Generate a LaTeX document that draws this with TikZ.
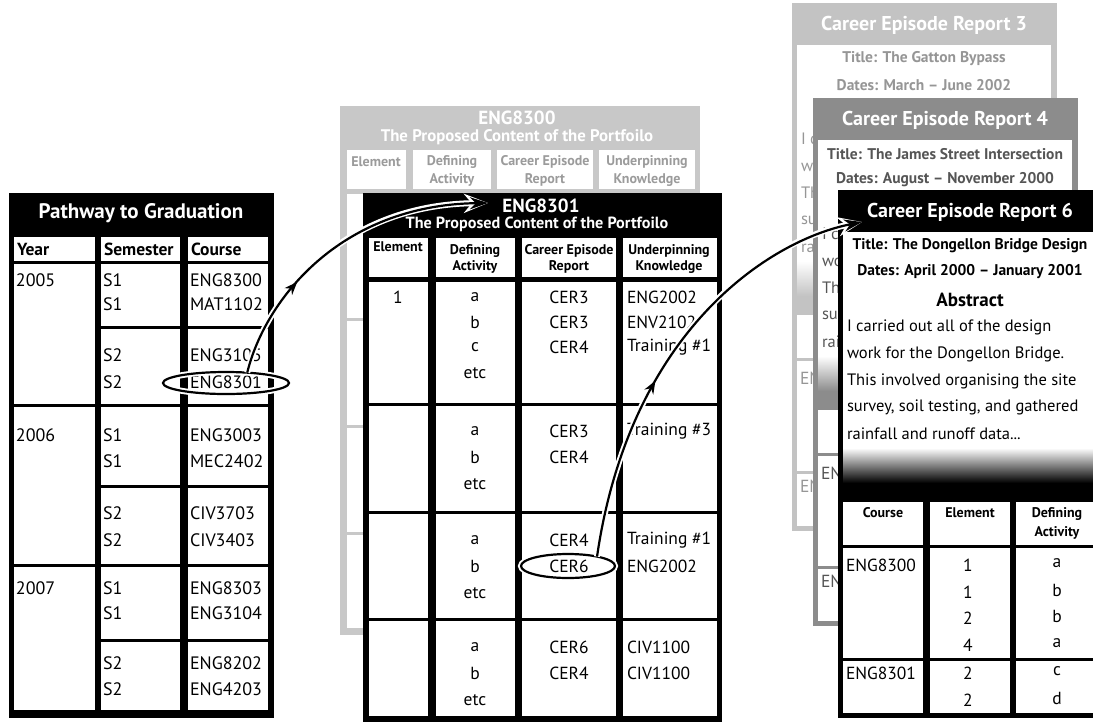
\documentclass[tikz,border=0pt]{standalone}
\usepackage{fontspec}
\setmainfont{PT Sans}
\usetikzlibrary{arrows.meta,shapes.geometric,decorations.markings}
\definecolor{lg}{RGB}{200,200,200}
\definecolor{lgt}{RGB}{155,155,155}
\definecolor{cthree}{RGB}{195,195,195}
\definecolor{cthreet}{RGB}{150,150,150}
\definecolor{cfour}{RGB}{140,140,140}
\definecolor{cfourt}{RGB}{85,85,85}
\newcommand\fsz[2]{\fontsize{#1}{#2}\selectfont}
\newcommand\abstractend{rainfall and runoff data.\kern0pt.\kern0pt.}
% career episode report card: #1 name, #2 x, #3 y, #4 fill, #5 text colour,
% #6 number, #7 title, #8 dates, #9 1 = front card (all parts visible)
\newcommand\cercard[9]{%
\begin{scope}[shift={(#2,#3)}]
\fill[#4] (0,0) rectangle (265,528);
\node[font=\bfseries\fsz{20}{24},white] (#1-h) at (132,22) {Career Episode Report #6};
\fill[white] (5,42) rectangle (259,259);
\shade[top color=white,bottom color=#4] (5,258) rectangle (259,293);
\node[font=\bfseries\fsz{15.5}{18},text=#5] (#1-ti) at (132,56) {#7};
\node[font=\bfseries\fsz{15.5}{18},text=#5] (#1-da) at (132,82) {#8};
\foreach \yy/\abl [count=\i] in {137/I carried out all of the design,164/work for the Dongellon Bridge.,191/This involved organising the site,217/{survey, soil testing, and gathered},244/\abstractend}
  \node[font=\fsz{16.5}{19},text=#5,anchor=west] (#1-l\i) at (9,\yy) {\abl};
\foreach \xa/\xb in {5/85,92/172,178/259} {
  \fill[white] (\xa,312) rectangle (\xb,355);
  \fill[white] (\xa,358) rectangle (\xb,468);
  \fill[white] (\xa,471) rectangle (\xb,523);}
\node[font=\fsz{17.5}{20},text=#5,anchor=west] (#1-k1) at (8,375) {ENG8300};
\node[font=\fsz{17.5}{20},text=#5,anchor=west] (#1-k2) at (8,483) {ENG8301};
\ifnum#9=1
\node[font=\bfseries\fsz{19}{22},text=#5] (#1-ab) at (132,110) {Abstract};
\node[font=\bfseries\fsz{14}{19},text=#5] (#1-c1) at (45,323) {Course};
\node[font=\bfseries\fsz{14}{19},text=#5] (#1-c2) at (132,323) {Element};
\node[font=\bfseries\fsz{14}{19},text=#5,align=center] (#1-c3) at (219,333) {Defining\\Activity};
\foreach \yy/\ev/\dv [count=\i] in {375/1/a,402/1/b,428/2/b,455/4/a,483/2/c,510/2/d} {
  \node[font=\fsz{17.5}{20},text=#5] (#1-e\i) at (130,\yy) {\ev};
  \node[font=\fsz{17.5}{20},text=#5] (#1-f\i) at (219,\yy-2) {\dv};}
\fi
\end{scope}}
\begin{document}
\begin{tikzpicture}[x=1pt,y=-1pt,
  every node/.style={inner sep=0pt,outer sep=0pt},
  tl/.style={anchor=west,font=\fsz{18}{21}},
  ml/.style={anchor=west,font=\fsz{17.5}{21}},
  mc/.style={anchor=center,font=\fsz{17.5}{21}},
  hb/.style={font=\bfseries\fsz{17.5}{21}},
  gh/.style={font=\bfseries\fsz{14}{18},text=lgt,align=center},
  bh/.style={font=\bfseries\fsz{14}{16},align=center},
  halo/.style={white,line width=6pt},
  conn/.style={black,line width=2.2pt}]
\useasboundingbox (0,0) rectangle (1093,721);
\clip (0,0) rectangle (1093,721);
\fill[white] (0,0) rectangle (1093,721);

% ---------- Pathway to Graduation ----------
\fill (9,193) rectangle (274,718);
\node[font=\bfseries\fsz{21}{25},white] (pg) at (141,213) {Pathway to Graduation};
\foreach \xa/\xb in {14/95,101/180,188/268} \fill[white] (\xa,237) rectangle (\xb,261);
\foreach \ya/\yb in {264/404,407/564,567/710} \fill[white] (14,\ya) rectangle (95,\yb);
\foreach \ya/\yb in {264/326,329/404,407/485,488/564,567/639,642/710} {
  \fill[white] (101,\ya) rectangle (180,\yb);
  \fill[white] (188,\ya) rectangle (268,\yb);}
\node[hb,anchor=west] (hy) at (17,249) {Year};
\node[hb,anchor=west] (hs) at (104,249) {Semester};
\node[hb,anchor=west] (hc) at (191,249) {Course};
\foreach \yy/\yr [count=\i] in {280/2005,435/2006,588/2007} \node[tl] (yr\i) at (16,\yy) {\yr};
\foreach \yy/\sv/\cv [count=\i] in {280/S1/ENG8300,304/S1/MAT1102,355/S2/ENG3105,382/S2/ENG8301,435/S1/ENG3003,461/S1/MEC2402,513/S2/CIV3703,540/S2/CIV3403,588/S1/ENG8303,613/S1/ENG3104,663/S2/ENG8202,689/S2/ENG4203} {
  \node[tl] (sm\i) at (103,\yy) {\sv};
  \node[tl] (cr\i) at (190,\yy) {\cv};}

% ---------- ENG8300 (grey, behind) ----------
\fill[lg] (340,106) rectangle (700,635);
\node[font=\bfseries\fsz{19}{22},white] (g1) at (517,118) {ENG8300};
\node[font=\bfseries\fsz{16.8}{20},white] (g2) at (517,137) {The Proposed Content of the Portfoilo};
\foreach \xa/\xb in {347/406,413/491,497/593,599/695} {
  \fill[white] (\xa,150) rectangle (\xb,189);
  \foreach \ya/\yb in {194/318,321/425,428/532,535/628} \fill[white] (\xa,\ya) rectangle (\xb,\yb);}
\node[gh] (gh1) at (376,162) {Element};
\node[gh] (gh2) at (452,171) {Defining\\Activity};
\node[gh] (gh3) at (545,171) {Career Episode\\Report};
\node[gh] (gh4) at (647,171) {Underpinning\\Knowledge};

% ---------- ENG8301 (front) ----------
\fill (363,193) rectangle (722,725);
\node[font=\bfseries\fsz{19}{22},white] (b1) at (541,206) {ENG8301};
\node[font=\bfseries\fsz{16.2}{19},white] (b2) at (537,224) {The Proposed Content of the Portfoilo};
\foreach \xa/\xb in {369/428,436/515,522/616,623/717} {
  \fill[white] (\xa,238) rectangle (\xb,277);
  \foreach \ya/\yb in {282/403,406/511,514/618,621/716} \fill[white] (\xa,\ya) rectangle (\xb,\yb);}
\node[bh] (bh1) at (398,247) {Element};
\node[bh] (bh2) at (475,259) {Defining\\Activity};
\node[bh] (bh3) at (569,259) {Career Episode\\Report};
\node[bh] (bh4) at (669,259) {Underpinning\\Knowledge};
\node[mc] (be1) at (398,297) {1};
\foreach \yy/\dv [count=\i] in {297/a,322/b,347/c,373/etc,431/a,457/b,484/etc,540/a,566/b,593/etc,647/a,673/b,700/etc}
  \node[mc] (bd\i) at (475,\yy) {\dv};
\foreach \yy/\cv [count=\i] in {297/CER3,322/CER3,347/CER4,431/CER3,457/CER4,540/CER4,566/CER6,647/CER6,673/CER4}
  \node[mc] (bc\i) at (569,\yy) {\cv};
\foreach \yy/\uv [count=\i] in {297/ENG2002,322/ENV2102,347/Training \#1,431/Training \#3,540/Training \#1,566/ENG2002,647/CIV1100,673/CIV1100}
  \node[ml] (bu\i) at (627,\yy) {\uv};

% ---------- Career Episode Reports ----------
\cercard{r3}{792}{3}{cthree}{cthreet}{3}{Title: The Gatton Bypass}{Dates: March – June 2002}{0}
\cercard{r4}{813}{98}{cfour}{cfourt}{4}{Title: The James Street Intersection}{Dates: August – November 2000}{0}
\cercard{r6}{838}{190}{black}{black}{6}{Title: The Dongellon Bridge Design}{Dates: April 2000 – January 2001}{1}

% ---------- ellipses and arrows ----------
\node[ellipse,draw,line width=2.2pt,preaction={draw=white,line width=6pt},minimum width=126pt,minimum height=22pt] (e1) at (226,383) {};
\node[ellipse,draw,line width=2.2pt,preaction={draw=white,line width=6pt},minimum width=94pt,minimum height=24pt] (e2) at (568,566) {};
\coordinate (a1end) at (488,203);
\coordinate (a2end) at (862,222);
\draw[halo,-{Stealth[length=24pt,width=19pt]}] (e1.26) .. controls (265,300) and (340,205) .. (a1end);
\draw[conn,-{Stealth[length=18pt,width=12pt]},postaction={decorate},
  decoration={markings,mark=at position 0.33 with {\arrow{Stealth[length=13pt,width=10pt]}}}]
  (e1.26) .. controls (265,300) and (340,205) .. (a1end);
\draw[halo,-{Stealth[length=24pt,width=19pt]}] (e2.18) .. controls (630,330) and (770,240) .. (a2end);
\draw[conn,-{Stealth[length=18pt,width=12pt]},postaction={decorate},
  decoration={markings,mark=at position 0.41 with {\arrow{Stealth[length=13pt,width=10pt]}}}]
  (e2.18) .. controls (630,330) and (770,240) .. (a2end);
\end{tikzpicture}
\end{document}
